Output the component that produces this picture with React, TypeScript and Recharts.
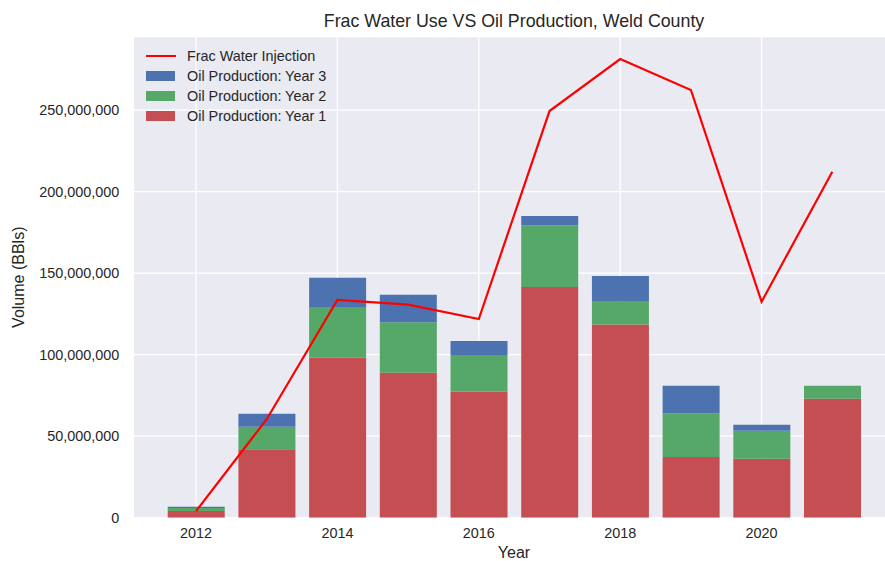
import React from 'react';
import { ComposedChart, Bar, Line, XAxis, YAxis, CartesianGrid, Legend } from 'recharts';

const years = [2012, 2013, 2014, 2015, 2016, 2017, 2018, 2019, 2020, 2021];
const oilYear1 = [4100000, 42000000, 98200000, 89000000, 77500000, 141500000, 118600000, 37200000, 36200000, 73000000];
const oilYear2 = [1900000, 13800000, 30600000, 30900000, 21900000, 37700000, 13900000, 26800000, 17200000, 8000000];
const oilYear3 = [700000, 8000000, 18400000, 16900000, 9000000, 5900000, 15800000, 17000000, 3700000, 0];
const fracWater = [4000000, 60400000, 133600000, 130700000, 121900000, 249500000, 281400000, 262400000, 132500000, 212300000];
const xTicks = [2012, 2014, 2016, 2018, 2020];
const yTicks = [0, 50000000, 100000000, 150000000, 200000000, 250000000];

const title = 'Frac Water Use VS Oil Production, Weld County';
const xLabel = 'Year';
const yLabel = 'Volume (BBls)';

const legendItems = [
  { label: 'Frac Water Injection', color: '#FF0000', kind: 'line' },
  { label: 'Oil Production: Year 3', color: '#4C72B0', kind: 'box' },
  { label: 'Oil Production: Year 2', color: '#55A868', kind: 'box' },
  { label: 'Oil Production: Year 1', color: '#C44E52', kind: 'box' },
];

const data = years.map((year, i) => ({
  year,
  y1: oilYear1[i],
  y2: oilYear2[i],
  y3: oilYear3[i],
  water: fracWater[i],
}));

const FONT = '"Liberation Sans", Arial, Helvetica, sans-serif';
const TEXT = '#262626';

const fmt = (v: number) => v.toLocaleString('en-US');

const LegendContent = () => (
  <div style={{ fontFamily: FONT, fontSize: 14.4, color: TEXT }}>
    {legendItems.map((it) => (
      <div key={it.label} style={{ display: 'flex', alignItems: 'center', height: 20, lineHeight: '20px' }}>
        <div style={{ width: 30, height: 20, display: 'flex', alignItems: 'center' }}>
          {it.kind === 'line' ? (
            <div style={{ width: 30, height: 2.2, background: it.color }} />
          ) : (
            <div style={{ width: 29, height: 10, background: it.color }} />
          )}
        </div>
        <span style={{ marginLeft: 11, whiteSpace: 'nowrap' }}>{it.label}</span>
      </div>
    ))}
  </div>
);

export default function App() {
  return (
    <div style={{ position: 'absolute', left: 0, top: 0, width: 885, height: 561, overflow: 'hidden', background: '#ffffff' }}>
      <ComposedChart
        width={905}
        height={561}
        data={data}
        margin={{ top: 36.7, right: 10, bottom: 0, left: 0 }}
        barCategoryGap="10%"
      >
        <CartesianGrid xAxisId="num" fill="#EAEAF2" stroke="#FFFFFF" strokeWidth={1.3} />
        <XAxis
          xAxisId="num"
          dataKey="year"
          type="number"
          domain={[2011.113, 2021.887]}
          allowDataOverflow
          ticks={xTicks}
          height={43.3}
          axisLine={false}
          tickLine={false}
          tickSize={0}
          tickMargin={10}
          tick={{ fill: TEXT, fontSize: 14.4, fontFamily: FONT }}
        />
        <XAxis xAxisId="cat" dataKey="year" type="category" hide height={0} padding={{ left: 27.35, right: 27.35 }} />
        <YAxis
          type="number"
          domain={[0, 295100000]}
          allowDataOverflow
          ticks={yTicks}
          width={133.3}
          axisLine={false}
          tickLine={false}
          tickSize={0}
          tickMargin={14}
          tickFormatter={fmt}
          tick={{ fill: TEXT, fontSize: 14.4, fontFamily: FONT }}
        />
        <Bar xAxisId="cat" dataKey="y1" stackId="oil" fill="#C44E52" name="Oil Production: Year 1" isAnimationActive={false} />
        <Bar xAxisId="cat" dataKey="y2" stackId="oil" fill="#55A868" name="Oil Production: Year 2" isAnimationActive={false} />
        <Bar xAxisId="cat" dataKey="y3" stackId="oil" fill="#4C72B0" name="Oil Production: Year 3" isAnimationActive={false} />
        <Line
          xAxisId="cat"
          dataKey="water"
          type="linear"
          stroke="#FF0000"
          strokeWidth={2.2}
          dot={false}
          activeDot={false}
          name="Frac Water Injection"
          isAnimationActive={false}
        />
        <Legend
          layout="vertical"
          align="center"
          verticalAlign="middle"
          content={<LegendContent />}
          wrapperStyle={{ left: 146, top: 46, width: 220 }}
        />
      </ComposedChart>
      <svg width={885} height={561} style={{ position: 'absolute', left: 0, top: 0, pointerEvents: 'none' }}>
        <text x={514} y={26.8} textAnchor="middle" fontFamily={FONT} fontSize={17.8} fill={TEXT}>
          {title}
        </text>
        <text x={514} y={558} textAnchor="middle" fontFamily={FONT} fontSize={16} fill={TEXT}>
          {xLabel}
        </text>
        <text transform="translate(24.2,277.2) rotate(-90)" textAnchor="middle" fontFamily={FONT} fontSize={16} fill={TEXT}>
          {yLabel}
        </text>
      </svg>
    </div>
  );
}
